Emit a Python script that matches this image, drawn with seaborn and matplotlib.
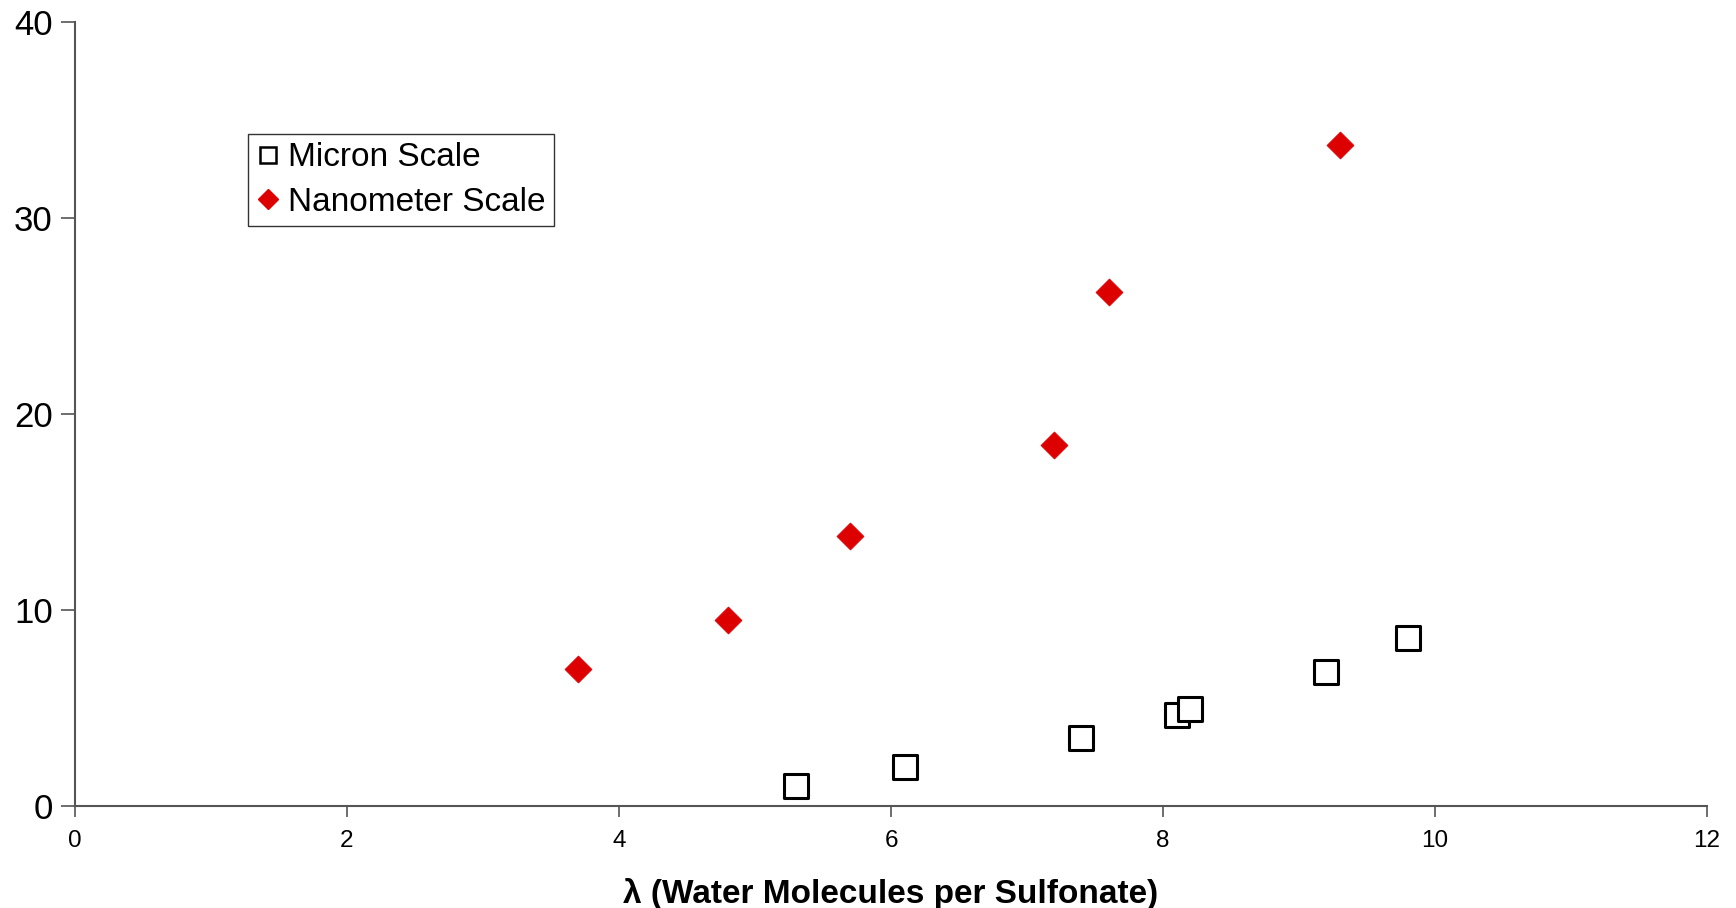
import matplotlib
matplotlib.use("Agg")
import matplotlib.pyplot as plt
import seaborn as sns
import pandas as pd
from matplotlib.lines import Line2D

micron_x = [5.3, 6.1, 7.4, 8.1, 8.2, 9.2, 9.8]
micron_y = [1.0, 2.0, 3.45, 4.65, 4.95, 6.85, 8.55]
nano_x = [3.7, 4.8, 5.7, 7.2, 7.6, 9.3]
nano_y = [7.0, 9.5, 13.8, 18.4, 26.2, 33.7]
x_ticks = [0, 2, 4, 6, 8, 10, 12]
y_ticks = [0, 10, 20, 30, 40]
series_names = ["Micron Scale", "Nanometer Scale"]

sns.set_theme(style="white")
plt.rcParams['font.family'] = ['Liberation Sans', 'DejaVu Sans']
plt.rcParams['text.color'] = 'black'
plt.rcParams['axes.labelcolor'] = 'black'
plt.rcParams['xtick.color'] = 'black'
plt.rcParams['ytick.color'] = 'black'

fig = plt.figure(figsize=(17.36, 9.08), dpi=100)
ax = fig.add_axes([0.0432, 0.1123, 0.9401, 0.8635])

df_m = pd.DataFrame({"x": micron_x, "y": micron_y})
df_n = pd.DataFrame({"x": nano_x, "y": nano_y})

sns.scatterplot(data=df_m, x="x", y="y", ax=ax, marker="s", s=300,
                facecolor="white", edgecolor="black", linewidth=2.2, zorder=3)
sns.scatterplot(data=df_n, x="x", y="y", ax=ax, marker="D", s=190,
                color="#DD0000", edgecolor="#DD0000", linewidth=0.5, zorder=3)

ax.set_xlim(0, 12)
ax.set_ylim(0, 40)
ax.set_xticks(x_ticks)
ax.set_yticks(y_ticks)
ax.set_xticklabels([str(v) for v in x_ticks], fontsize=17.5)
ax.set_yticklabels([str(v) for v in y_ticks], fontsize=25)
ax.tick_params(axis="x", direction="out", length=8, width=1.2, color="#555555",
               labelcolor="black", pad=9, bottom=True)
ax.tick_params(axis="y", direction="out", length=10, width=1.2, color="#555555",
               labelcolor="black", pad=6, left=True)
for side in ["top", "right"]:
    ax.spines[side].set_visible(False)
for side in ["left", "bottom"]:
    ax.spines[side].set_color("#555555")
    ax.spines[side].set_linewidth(1.5)

ax.set_xlabel("λ (Water Molecules per Sulfonate)", fontsize=24, fontweight="bold",
              labelpad=19, color="black")
ax.set_ylabel("")

handles = [
    Line2D([], [], marker="s", linestyle="none", markersize=12, markerfacecolor="white",
           markeredgecolor="black", markeredgewidth=1.8),
    Line2D([], [], marker="D", linestyle="none", markersize=10, markerfacecolor="#DD0000",
           markeredgecolor="#DD0000"),
]
leg = ax.legend(handles, series_names, loc="upper left", bbox_to_anchor=(0.106, 0.857),
                fontsize=24, frameon=True, fancybox=False, framealpha=1,
                handlelength=0.7, handletextpad=0.25, borderpad=0.25, labelspacing=0.4,
                borderaxespad=0)
leg.get_frame().set_edgecolor("#333333")
leg.get_frame().set_linewidth(1.0)
for t in leg.get_texts():
    t.set_color("black")

fig.savefig("out.png", dpi=100)
